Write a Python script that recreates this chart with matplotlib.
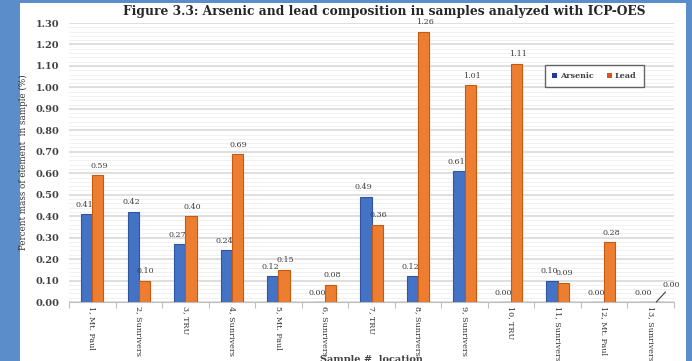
import matplotlib
matplotlib.use("Agg")
import matplotlib.pyplot as plt
from matplotlib.patches import Rectangle, Patch
from matplotlib.ticker import MultipleLocator
import numpy as np

# Data
samples = ['1, Mt. Paul', '2, Sunrivers', '3, TRU', '4, Sunrivers', '5, Mt. Paul',
           '6, Sunrivers', '7, TRU', '8, Sunrivers', '9, Sunrivers', '10, TRU',
           '11, Sunrivers', '12, Mt. Paul', '13, Sunrivers']
arsenic = [0.41, 0.42, 0.27, 0.24, 0.12, 0.00, 0.49, 0.12, 0.61, 0.00, 0.10, 0.00, 0.00]
lead = [0.59, 0.10, 0.40, 0.69, 0.15, 0.08, 0.36, 1.26, 1.01, 1.11, 0.09, 0.28, 0.00]

plt.rcParams['font.family'] = ['DejaVu Serif']

blue_col = '#4472C4'
blue_edge = '#2F55A0'
orange_col = '#ED7D31'
orange_edge = '#C55A11'
txt_col = '#404040'

fig = plt.figure(figsize=(6.92, 3.61), dpi=100, facecolor='#5B8DCB')
# white slide area behind the chart
fig.patches.append(Rectangle((20/692, 0), 666/692, 1 - 3/361, transform=fig.transFigure,
                             facecolor='white', edgecolor='none', zorder=-10))

ax = fig.add_axes([69/692, 1 - 302/361, 605/692, 279/361])
ax.set_facecolor('none')

x = np.arange(len(samples))
w = 0.24
ax.bar(x - w/2, arsenic, w, color=blue_col, edgecolor=blue_edge, linewidth=0.8, zorder=3)
ax.bar(x + w/2, lead, w, color=orange_col, edgecolor=orange_edge, linewidth=0.8, zorder=3)

# data labels
for i in range(len(samples)):
    ax.text(x[i] - w/2 - 0.05, arsenic[i] + 0.025, '%.2f' % arsenic[i], ha='center', va='bottom',
            fontsize=5.8, color=txt_col)
    if i == len(samples) - 1:
        # callout with leader line for the last lead value
        ax.annotate('%.2f' % lead[i], xy=(x[i] + w/2, lead[i]), xytext=(x[i] + 0.45, 0.06),
                    ha='center', va='bottom', fontsize=5.8, color=txt_col,
                    arrowprops=dict(arrowstyle='-', color=txt_col, lw=0.8, shrinkA=0, shrinkB=0))
    else:
        ax.text(x[i] + w/2 + 0.03, lead[i] + 0.025, '%.2f' % lead[i], ha='center', va='bottom',
                fontsize=5.8, color=txt_col)

ax.set_xlim(-0.5, len(samples) - 0.5)
ax.set_ylim(0, 1.30)
ax.yaxis.set_major_locator(MultipleLocator(0.1))
ax.yaxis.set_minor_locator(MultipleLocator(0.02))
ax.yaxis.set_major_formatter(matplotlib.ticker.FormatStrFormatter('%.2f'))
ax.grid(axis='y', which='major', color='#D9D9D9', linewidth=1.2, zorder=0)
ax.grid(axis='y', which='minor', color='#EFEFEF', linewidth=0.6, zorder=0)
ax.tick_params(axis='y', which='both', length=0, labelsize=7, labelcolor=txt_col, pad=7)
for lab in ax.get_yticklabels():
    lab.set_fontweight('bold')

ax.set_xticks(x)
ax.set_xticklabels(samples, rotation=-90, fontsize=5.8, color='#333333')
ax.set_xticks(np.arange(-0.5, len(samples)), minor=True)
ax.tick_params(axis='x', which='major', length=0, pad=3)
ax.tick_params(axis='x', which='minor', length=4, color='#BFBFBF', width=0.8)

for s in ['top', 'right', 'left']:
    ax.spines[s].set_visible(False)
ax.spines['bottom'].set_color('#BFBFBF')
ax.spines['bottom'].set_linewidth(0.8)

ax.set_ylabel('Percent mass of element  in sample (%)', fontsize=6.3, color='#333333')
ax.yaxis.set_label_coords(-0.068, 0.5)

fig.text(0.555, 1 - 11/361, 'Figure 3.3: Arsenic and lead composition in samples analyzed with ICP-OES',
         ha='center', va='center', fontsize=8.8, fontweight='bold', color='#262626')
fig.text(371/692, 1 - 359/361, 'Sample #, location', ha='center', va='center',
         fontsize=7, fontweight='bold', color=txt_col)

handles = [Patch(facecolor='#203C96', edgecolor='none', label='Arsenic'),
           Patch(facecolor='#D2561E', edgecolor='none', label='Lead')]
leg = ax.legend(handles=handles, loc='upper left', bbox_to_anchor=(0.78, 0.865), ncol=2,
                fontsize=5.8, frameon=True, fancybox=False, handlelength=0.6, handleheight=0.6,
                handletextpad=0.4, columnspacing=1.6, borderpad=0.9)
leg.get_frame().set_edgecolor('#404040')
leg.get_frame().set_linewidth(1.0)
for t in leg.get_texts():
    t.set_fontweight('bold')
    t.set_color(txt_col)

fig.savefig('out.png', dpi=100, facecolor=fig.get_facecolor())
